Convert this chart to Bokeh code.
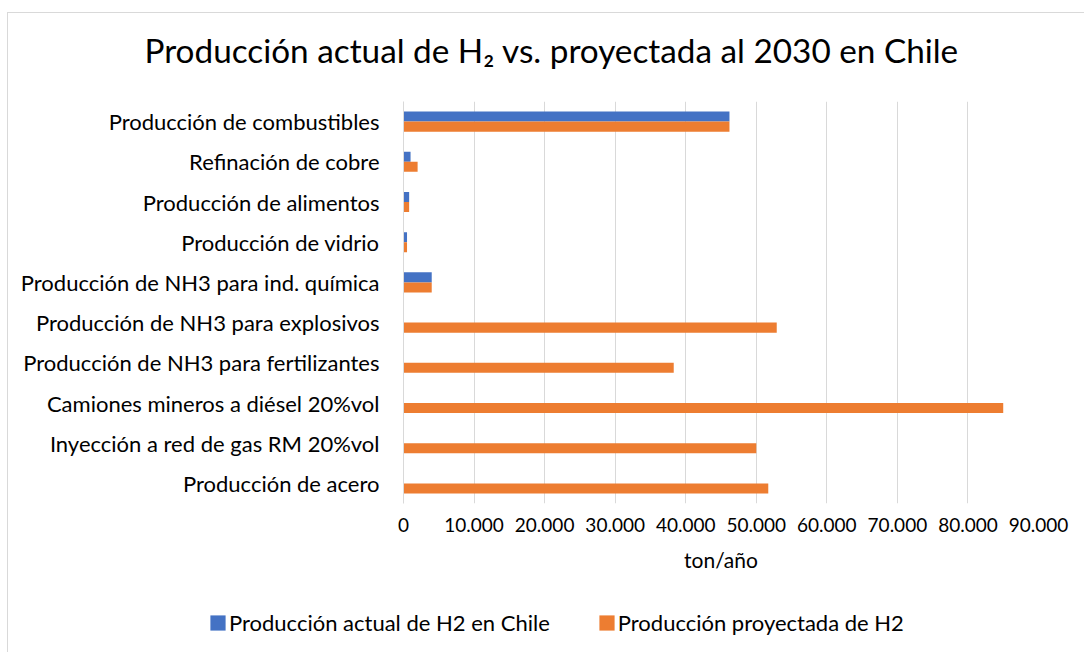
from bokeh.plotting import figure
from bokeh.layouts import column
from bokeh.models import (FactorRange, FixedTicker, Legend, LegendItem,
                          ColumnDataSource, Title, Range1d)
from bokeh.transform import dodge
from bokeh.embed import file_html
from bokeh.resources import INLINE

# ---- data (top to bottom) ----
categories = [
    "Producción de combustibles",
    "Refinación de cobre",
    "Producción de alimentos",
    "Producción de vidrio",
    "Producción de NH3 para ind. química",
    "Producción de NH3 para explosivos",
    "Producción de NH3 para fertilizantes",
    "Camiones mineros a diésel 20%vol",
    "Inyección a red de gas RM 20%vol",
    "Producción de acero",
]
actual = [46200, 1000, 800, 500, 4000, 0, 0, 0, 0, 0]
projected = [46200, 2000, 800, 500, 4000, 52900, 38300, 85000, 50000, 51700]
tick_values = [0, 10000, 20000, 30000, 40000, 50000, 60000, 70000, 80000, 90000]
tick_labels = ["0", "10.000", "20.000", "30.000", "40.000", "50.000",
               "60.000", "70.000", "80.000", "90.000"]
series_names = ["Producción actual de H2 en Chile", "Producción proyectada de H2"]
title_text = "Producción actual de H₂ vs. proyectada al 2030 en Chile"
x_label = "ton/año"

FONT = "Lato"
BLUE = "#4472C4"
ORANGE = "#ED7D31"
GRID = "#d9d9d9"
NAN = float("nan")

src = ColumnDataSource(dict(cat=categories, actual=actual, projected=projected))

p = figure(
    y_range=FactorRange(factors=categories[::-1]),
    x_range=(0, 90000),
    frame_width=634, frame_height=401,
    min_border_left=395, min_border_right=47,
    min_border_top=88, min_border_bottom=85,
    output_backend="svg", toolbar_location=None,
    margin=(12, 0, 0, 7),
    title=title_text,
)
p.frame_align = False
p.styles = {"border-left": "1px solid #d9d9d9", "border-top": "1px solid #d9d9d9"}
p.outline_line_color = None
p.background_fill_color = "white"
p.border_fill_color = "white"

p.title.align = "left"
p.title.offset = -259
p.title.standoff = 10
p.title.text_font = FONT
p.title.text_font_size = "33.3px"
p.title.text_font_style = "normal"
p.title.text_color = "black"
# empty spacer between title and plot area
p.add_layout(Title(text=" ", text_font_size="10px", standoff=14), "above")

p.hbar(y=dodge("cat", 0.125, range=p.y_range), right="actual", left=0,
       height=0.25, source=src, fill_color=BLUE, line_color=None)
p.hbar(y=dodge("cat", -0.125, range=p.y_range), right="projected", left=0,
       height=0.25, source=src, fill_color=ORANGE, line_color=None)

# axes
p.xaxis.ticker = FixedTicker(ticks=tick_values)
p.xaxis.major_label_overrides = {v: l for v, l in zip(tick_values, tick_labels)}
p.xaxis.axis_line_color = None
p.xaxis.major_tick_line_color = None
p.xaxis.minor_tick_line_color = None
p.xaxis.major_label_text_font = FONT
p.xaxis.major_label_text_font_size = "19px"
p.xaxis.major_label_text_color = "black"
p.xaxis.major_label_standoff = 8
p.xaxis.axis_label = x_label
p.xaxis.axis_label_text_font = FONT
p.xaxis.axis_label_text_font_size = "21px"
p.xaxis.axis_label_text_font_style = "normal"
p.xaxis.axis_label_text_color = "black"
p.xaxis.axis_label_standoff = 12

p.yaxis.axis_line_color = GRID
p.yaxis.major_tick_line_color = None
p.yaxis.minor_tick_line_color = None
p.yaxis.major_label_text_font = FONT
p.yaxis.major_label_text_font_size = "22px"
p.yaxis.major_label_text_color = "black"
p.yaxis.major_label_standoff = 18

p.xgrid.grid_line_color = GRID
p.ygrid.grid_line_color = None

# ---- legend strip (separate figure below the chart) ----
lg = figure(width=1076, height=65, x_range=Range1d(0, 1), y_range=Range1d(0, 1),
            x_axis_type=None, y_axis_type=None, min_border=0,
            output_backend="svg", toolbar_location=None, margin=(0, 0, 0, 7))
lg.frame_align = False
lg.styles = {"border-left": "1px solid #d9d9d9"}
lg.outline_line_color = None
lg.background_fill_color = "white"
lg.border_fill_color = "white"
# legend-only swatch renderers (no visible marks)
r_a = lg.hbar(y=[NAN], right=[NAN], height=0.1, fill_color=BLUE, line_color=None)
r_p = lg.hbar(y=[NAN], right=[NAN], height=0.1, fill_color=ORANGE, line_color=None)

legend = Legend(items=[LegendItem(label=series_names[0], renderers=[r_a]),
                       LegendItem(label=series_names[1], renderers=[r_p])],
                orientation="horizontal", location=(200, 16),
                padding=0, margin=0, spacing=47, label_standoff=2,
                glyph_width=19, glyph_height=19, label_height=22,
                label_text_font=FONT, label_text_font_size="22px",
                label_text_color="black",
                background_fill_alpha=0, border_line_color=None)
lg.add_layout(legend, "center")

open("out.html", "w").write(file_html(column(p, lg, spacing=0), INLINE))
